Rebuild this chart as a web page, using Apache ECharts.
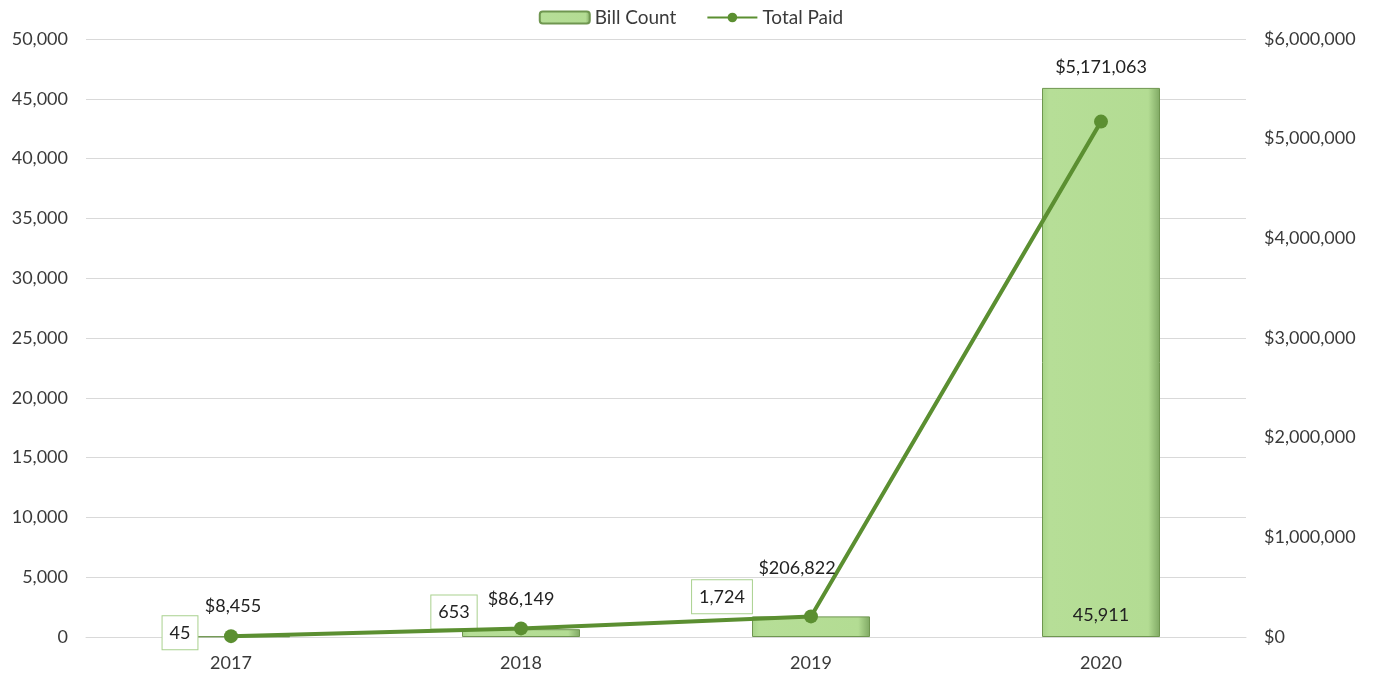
<!DOCTYPE html>
<html>
<head>
<meta charset="utf-8">
<script src="https://cdn.jsdelivr.net/npm/echarts@6/dist/echarts.min.js"></script>
<style>
  html, body { margin: 0; padding: 0; background: #fff; }
  #chart { width: 1382px; height: 675px; }
</style>
</head>
<body>
<div id="chart"></div>
<script>
const years = ["2017", "2018", "2019", "2020"];
const billCount = [45, 653, 1724, 45911];
const totalPaid = [8455, 86149, 206822, 5171063];

// label nudges, picked by eye against the reference
const barLabelOffsets = [[-51, -4], [-67, -21], [-89, -30], null];
const lineLabelOffsets = [[2, -9], [0, -8], [-14, -27], [0, -33]];

const FONT = "Lato";
const TEXT = "#3a3a3a";
const FS = 18;
const fmt = (v) => v.toLocaleString("en-US");

const chart = echarts.init(document.getElementById("chart"), null, { renderer: "canvas" });

const barData = billCount.map((v, i) => {
  const off = barLabelOffsets[i];
  if (!off) {
    return {
      value: v,
      label: { position: "insideBottom", distance: 13 }
    };
  }
  return {
    value: v,
    label: {
      position: "inside",
      offset: off,
      backgroundColor: "#fff",
      borderColor: "#a9d18e",
      borderWidth: 1,
      padding: [8, 7, 7, 7]
    }
  };
});

const lineData = totalPaid.map((v, i) => ({
  value: v,
  label: { offset: lineLabelOffsets[i] }
}));

chart.setOption({
  animation: false,
  textStyle: { fontFamily: FONT },
  legend: {
    top: 3,
    left: "center",
    itemGap: 30,
    itemWidth: 50,
    itemHeight: 12,
    textStyle: { fontFamily: FONT, fontSize: 19, color: TEXT },
    data: ["Bill Count", "Total Paid"]
  },
  grid: { left: 86, right: 136, top: 39, bottom: 38 },
  xAxis: {
    type: "category",
    data: years,
    axisTick: { show: false },
    axisLine: { lineStyle: { color: "#d9d9d9" } },
    axisLabel: { color: TEXT, fontSize: FS, fontFamily: FONT, margin: 17 }
  },
  yAxis: [
    {
      type: "value",
      min: 0,
      max: 50000,
      interval: 5000,
      axisLabel: { color: TEXT, fontSize: FS, fontFamily: FONT, margin: 18, formatter: fmt },
      splitLine: { lineStyle: { color: "#d9d9d9" } }
    },
    {
      type: "value",
      min: 0,
      max: 6000000,
      interval: 1000000,
      axisLabel: { color: TEXT, fontSize: FS, fontFamily: FONT, margin: 18, formatter: (v) => "$" + fmt(v) },
      splitLine: { show: false }
    }
  ],
  series: [
    {
      name: "Bill Count",
      type: "bar",
      yAxisIndex: 0,
      barWidth: 118,
      data: barData,
      itemStyle: {
        color: new echarts.graphic.LinearGradient(0, 0, 1, 0, [
          { offset: 0, color: "#a6d487" },
          { offset: 0.06, color: "#b6de97" },
          { offset: 0.9, color: "#b3dc93" },
          { offset: 1, color: "#7fa863" }
        ]),
        borderColor: "#6f9650",
        borderWidth: 1
      },
      label: {
        show: true,
        color: "#222",
        fontSize: FS,
        fontFamily: FONT,
        formatter: (p) => fmt(p.value)
      }
    },
    {
      name: "Total Paid",
      type: "line",
      yAxisIndex: 1,
      data: lineData,
      symbol: "circle",
      symbolSize: 14,
      lineStyle: { color: "#5b8f31", width: 4 },
      itemStyle: { color: "#5b8f31" },
      label: {
        show: true,
        position: "top",
        color: "#222",
        fontSize: FS,
        fontFamily: FONT,
        formatter: (p) => "$" + fmt(p.value)
      },
      z: 5
    }
  ]
});
</script>
</body>
</html>
